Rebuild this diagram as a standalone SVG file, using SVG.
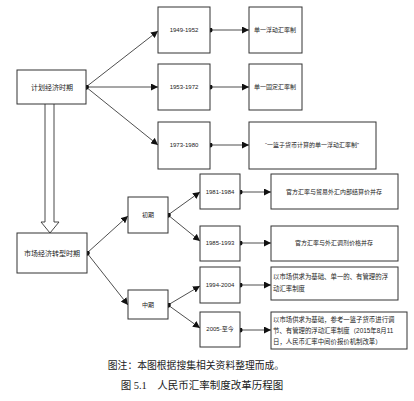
<svg xmlns="http://www.w3.org/2000/svg" width="414" height="401" viewBox="0 0 414 401">
<style>
.box{fill:#fff;stroke:#333;stroke-width:1}
.t{font-family:"Liberation Sans","Noto Sans CJK SC",sans-serif;font-size:7px;fill:#222;text-anchor:middle}
.s{font-family:"Liberation Sans","Noto Sans CJK SC",sans-serif;font-size:6px;fill:#222;text-anchor:middle}
.l{font-family:"Liberation Sans","Noto Sans CJK SC",sans-serif;font-size:6.4px;fill:#222}
.c{font-family:"Liberation Serif","Noto Sans CJK SC",serif;fill:#222;text-anchor:middle}
.e{stroke:#222;stroke-width:0.8;fill:none;marker-end:url(#ah);marker-start:url(#dot)}
</style>
<defs>
<marker id="ah" viewBox="0 0 10 10" refX="10" refY="5" markerWidth="7" markerHeight="7" markerUnits="userSpaceOnUse" orient="auto"><path d="M0,0 L10,5 L0,10 z" fill="#111"/></marker>
<marker id="dot" viewBox="0 0 10 10" refX="5" refY="5" markerWidth="5" markerHeight="5" markerUnits="userSpaceOnUse"><circle cx="5" cy="5" r="5" fill="#111"/></marker>
</defs>
<rect width="414" height="401" fill="#fff"/>
<g id="connectors">
<path class="e" d="M86,87 L158,31"/>
<path class="e" d="M86,87 L158,87"/>
<path class="e" d="M86,87 L158,145"/>
<path class="e" d="M210,30 L249,30"/>
<path class="e" d="M210,87 L249,87"/>
<path class="e" d="M210,145 L249,145"/>
<path class="e" d="M87,253 L128,216"/>
<path class="e" d="M87,253 L128,305"/>
<path class="e" d="M168,215 L200,192"/>
<path class="e" d="M168,215 L200,241"/>
<path class="e" d="M168,305 L200,286"/>
<path class="e" d="M168,305 L200,328"/>
<path class="e" d="M240,192 L271,192"/>
<path class="e" d="M240,243 L271,243"/>
<path class="e" d="M240,285 L271,285"/>
<path class="e" d="M240,330 L271,330"/>
<path d="M45,104 L45,222 L41,222 L50,233 L59,222 L54,222 L54,104" fill="#fff" stroke="#333" stroke-width="0.9"/>
</g>
<g id="n-plan"><rect class="box" x="17" y="70" width="69" height="34"/><text class="t" x="52" y="90">计划经济时期</text></g>
<g id="n-1949"><rect class="box" x="158" y="7" width="52" height="46"/><text class="s" x="184" y="32">1949-1952</text></g>
<g id="n-1953"><rect class="box" x="158" y="64" width="52" height="46"/><text class="s" x="184" y="89">1953-1972</text></g>
<g id="n-1973"><rect class="box" x="158" y="122" width="52" height="47"/><text class="s" x="184" y="147">1973-1980</text></g>
<g id="n-float1"><rect class="box" x="249" y="7" width="53" height="46"/><text class="s" x="275" y="32">单一浮动汇率制</text></g>
<g id="n-fixed"><rect class="box" x="249" y="64" width="53" height="46"/><text class="s" x="275" y="89">单一固定汇率制</text></g>
<g id="n-basket"><rect class="box" x="249" y="122" width="127" height="47"/><text class="s" x="312" y="147">“一篮子货币计算的单一浮动汇率制”</text></g>
<g id="n-market"><rect class="box" x="17" y="233" width="70" height="40"/><text class="t" x="52" y="256">市场经济转型时期</text></g>
<g id="n-early"><rect class="box" x="128" y="197" width="40" height="36"/><text class="s" x="148" y="217">初期</text></g>
<g id="n-mid"><rect class="box" x="128" y="290" width="40" height="29"/><text class="s" x="148" y="307">中期</text></g>
<g id="n-1981"><rect class="box" x="200" y="174" width="40" height="35"/><text class="s" x="220" y="194">1981-1984</text></g>
<g id="n-1985"><rect class="box" x="200" y="226" width="40" height="35"/><text class="s" x="220" y="245">1985-1993</text></g>
<g id="n-1994"><rect class="box" x="200" y="267" width="40" height="36"/><text class="s" x="220" y="287">1994-2004</text></g>
<g id="n-2005"><rect class="box" x="200" y="312" width="40" height="35"/><text class="s" x="220" y="331">2005-至今</text></g>
<g id="n-r1981"><rect class="box" x="271" y="174" width="127" height="35"/><text class="s" x="334" y="194">官方汇率与贸易外汇内部结算价并存</text></g>
<g id="n-r1985"><rect class="box" x="271" y="226" width="127" height="35"/><text class="s" x="334" y="245">官方汇率与外汇调剂价格并存</text></g>
<g id="n-r1994"><rect class="box" x="271" y="267" width="127" height="33"/><text class="l" x="273" y="279">以市场供求为基础、单一的、有管理的浮</text><text class="l" x="273" y="291">动汇率制度</text></g>
<g id="n-r2005"><rect class="box" x="271" y="312" width="136" height="37"/><text class="l" x="273" y="322">以市场供求为基础，参考一篮子货币进行调</text><text class="l" x="273" y="333">节、有管理的浮动汇率制度（2015年8月11</text><text class="l" x="273" y="344">日，人民币汇率中间价报价机制改革）</text></g>
<g id="caption">
<text class="c" x="196" y="369" font-size="9.8">图注：本图根据搜集相关资料整理而成。</text>
<text class="c" x="202" y="389" font-size="10.5" xml:space="preserve">图 5.1    人民币汇率制度改革历程图</text>
</g>
</svg>
